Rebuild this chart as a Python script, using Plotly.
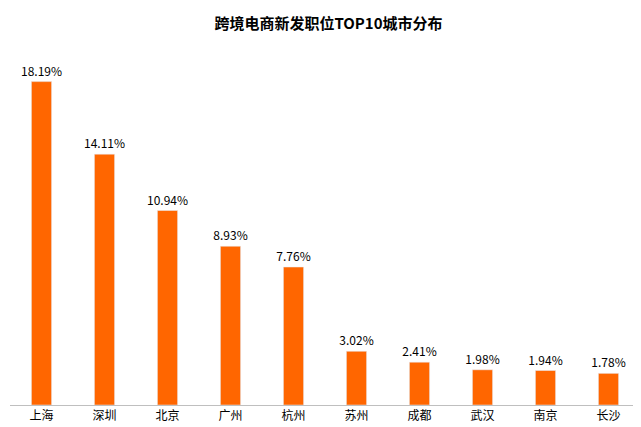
import plotly.graph_objects as go

cities = ["上海","深圳","北京","广州","杭州","苏州","成都","武汉","南京","长沙"]
values = [18.19,14.11,10.94,8.93,7.76,3.02,2.41,1.98,1.94,1.78]
labels = [f"{v:.2f}%" for v in values]

fig = go.Figure(go.Bar(x=cities, y=values, text=labels, textposition="outside",
                       marker_color="#FF6600", cliponaxis=False, constraintext="none",
                       textfont=dict(size=12, color="#000")))
fig.update_layout(
    width=641, height=427, plot_bgcolor="white", paper_bgcolor="white",
    margin=dict(l=2, r=9, t=45, b=30, autoexpand=False), bargap=0.68,
    title=dict(text="<b>跨境电商新发职位TOP10城市分布</b>", x=0.5, y=0.975, xanchor="center",
               yanchor="top", font=dict(size=15, color="#000")),
    font=dict(family="Noto Sans CJK SC", size=12, color="#000"),
    showlegend=False, uniformtext=dict(minsize=12, mode="show"),
)
fig.update_yaxes(range=[0, 19.8], visible=False)
fig.update_xaxes(showline=True, linecolor="#BFBFBF", ticks="", tickfont=dict(size=12))
fig.write_html("out.html")
